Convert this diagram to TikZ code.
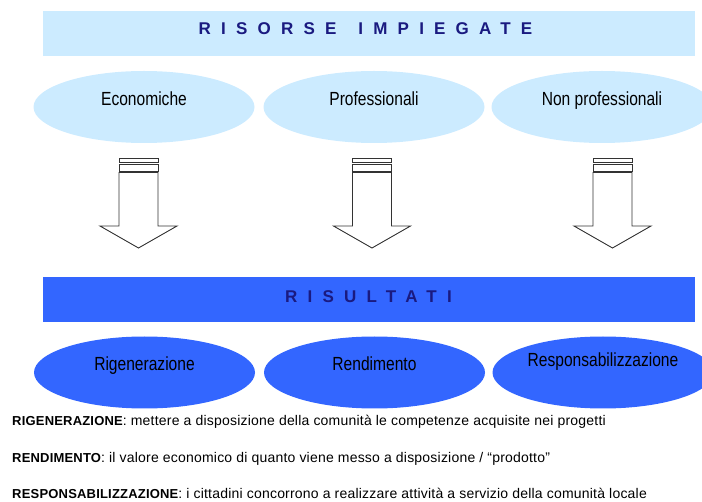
\documentclass[tikz,border=0pt]{standalone}
\usepackage{fontspec}
\setmainfont{Liberation Sans}
\newfontfamily\spacedfont[LetterSpace=60]{Liberation Sans}
\newfontfamily\narrowfont[FakeStretch=0.82]{Liberation Sans}
\newfontfamily\legendfont[LetterSpace=1.5]{Liberation Sans}
\newcommand{\keyword}[1]{{\fontsize{13}{15}\selectfont\bfseries #1}}
\usetikzlibrary{shapes.geometric}
\definecolor{paleblue}{HTML}{CCEBFF}
\definecolor{brightblue}{HTML}{3366FF}
\definecolor{navy}{HTML}{1A1A80}

\begin{document}
\begin{tikzpicture}[x=1pt,y=-1pt]
    \tikzstyle{banner}=[rectangle, minimum width=652pt, minimum height=45pt, inner sep=0pt]
    \tikzstyle{oval}=[ellipse, minimum width=221pt, minimum height=72pt, inner sep=0pt]
    \tikzstyle{heading}=[anchor=base, text=navy, inner sep=0pt, font=\spacedfont\bfseries\fontsize{17}{20}\selectfont]
    \tikzstyle{ovaltext}=[anchor=base, inner sep=0pt, font=\narrowfont\fontsize{19}{22}\selectfont]
    \tikzstyle{legend}=[anchor=base west, inner sep=0pt, font=\legendfont\fontsize{14}{16}\selectfont]
    \tikzstyle{block}=[draw=black!80, fill=white, line width=0.9pt]
    \useasboundingbox (0,0) rectangle (702,502);

    \node[banner, fill=paleblue] (risorse) at (368.5,33.5) {};
    \node[heading] (risorsetitle) at ([xshift=-3pt,yshift=-1.5pt]risorse.center) {RISORSE\kern 22pt IMPIEGATE};

    \node[oval, fill=paleblue] (eco) at (144,107) {};
    \node[oval, fill=paleblue] (pro) at (374,107) {};
    \node[oval, fill=paleblue] (nonpro) at (602,107) {};
    \node[ovaltext] (ecotext) at ([yshift=1pt]eco.center) {Economiche};
    \node[ovaltext] (protext) at ([yshift=1pt]pro.center) {Professionali};
    \node[ovaltext] (nonprotext) at ([yshift=1pt]nonpro.center) {Non professionali};

    \foreach \cx in {138.5,372,612.5}{
        \draw[block] ({\cx-19.5},158) rectangle ({\cx+19.5},162);
        \draw[block] ({\cx-19.5},164.5) rectangle ({\cx+19.5},171);
        \draw[block] ({\cx-19.5},172.5) -- ({\cx-19.5},226) -- ({\cx-38.5},226) -- (\cx,248)
                     -- ({\cx+38.5},226) -- ({\cx+19.5},226) -- ({\cx+19.5},172.5) -- cycle;
    }

    \node[banner, fill=brightblue] (risultati) at (368.5,299.5) {};
    \node[heading] (risultatititle) at ([yshift=-2.8pt]risultati.center) {RISULTATI};

    \node[oval, fill=brightblue] (rig) at (144.5,372.5) {};
    \node[oval, fill=brightblue] (ren) at (374.5,372.5) {};
    \node[oval, fill=brightblue] (resp) at (603,372.5) {};
    \node[ovaltext] (rigtext) at ([yshift=2pt]rig.center) {Rigenerazione};
    \node[ovaltext] (rentext) at ([yshift=2pt]ren.center) {Rendimento};
    \node[ovaltext] (resptext) at ([yshift=6pt]resp.center) {Responsabilizzazione};

    \node[legend] (rigdef) at (12,426) {\keyword{RIGENERAZIONE}: mettere a disposizione della comunità le competenze acquisite nei progetti};
    \node[legend] (rendef) at (12,462.5) {\keyword{RENDIMENTO}: il valore economico di quanto viene messo a disposizione / “prodotto”};
    \node[legend] (respdef) at (12,499) {\keyword{RESPONSABILIZZAZIONE}: i cittadini concorrono a realizzare attività a servizio della comunità locale};

\end{tikzpicture}
\end{document}
